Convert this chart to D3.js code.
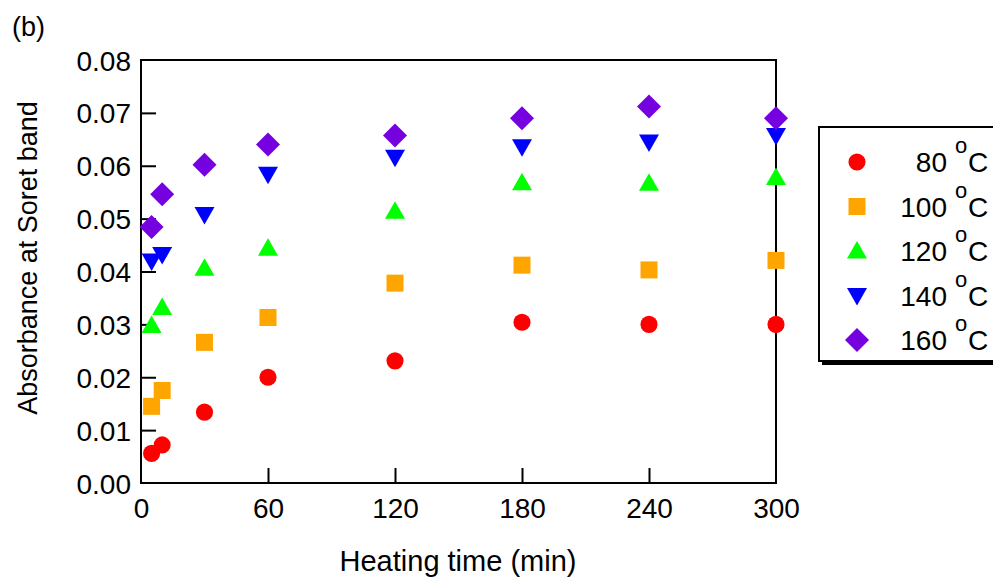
<!DOCTYPE html>
<html>
<head>
<meta charset="utf-8">
<script src="https://cdn.jsdelivr.net/npm/d3@7"></script>
<style>
  html, body { margin: 0; padding: 0; background: #fff; }
  svg { display: block; font-family: "Liberation Sans", Arial, sans-serif; }
</style>
</head>
<body>
<svg id="chart" width="993" height="580"></svg>
<script>
// Heating time (min)
const times = [5, 10, 30, 60, 120, 180, 240, 300];
// Absorbance at the Soret band for each heating temperature
const abs80  = [0.0056, 0.0072, 0.0134, 0.0200, 0.0231, 0.0304, 0.0300, 0.0300];
const abs100 = [0.0145, 0.0175, 0.0266, 0.0313, 0.0378, 0.0412, 0.0403, 0.0421];
const abs120 = [0.0298, 0.0332, 0.0406, 0.0444, 0.0514, 0.0568, 0.0567, 0.0578];
const abs140 = [0.0420, 0.0432, 0.0508, 0.0584, 0.0616, 0.0636, 0.0645, 0.0657];
const abs160 = [0.0484, 0.0546, 0.0602, 0.0640, 0.0657, 0.0690, 0.0712, 0.0690];
const tempLabels = ["80", "100", "120", "140", "160"];
const xTicks = [0, 60, 120, 180, 240, 300];
const yTicks = [0, 0.01, 0.02, 0.03, 0.04, 0.05, 0.06, 0.07, 0.08];

const series = [
  { label: tempLabels[0], values: abs80,  color: "#ff0000", shape: "circle" },
  { label: tempLabels[1], values: abs100, color: "#ffa500", shape: "square" },
  { label: tempLabels[2], values: abs120, color: "#00ff00", shape: "up" },
  { label: tempLabels[3], values: abs140, color: "#0000ff", shape: "down" },
  { label: tempLabels[4], values: abs160, color: "#7500e0", shape: "diamond" }
];

const svg = d3.select("#chart");
const L = 141, R = 776, T = 60, B = 483;

const x = d3.scaleLinear().domain([0, 300]).range([L, R]);
const y = d3.scaleLinear().domain([0, 0.08]).range([B, T]);

// marker path generators, centred at the origin
function markerPath(shape) {
  switch (shape) {
    case "circle": return d3.symbol(d3.symbolCircle, 230)();
    case "square": return "M-8.5,-8.5H8.5V8.5H-8.5Z";
    case "up": return "M0,-10L10,7.5L-10,7.5Z";
    case "down": return "M0,10L10,-7.5L-10,-7.5Z";
    case "diamond": return "M0,-12L12,0L0,12L-12,0Z";
  }
}

// frame
svg.append("rect")
  .attr("x", L).attr("y", T).attr("width", R - L).attr("height", B - T)
  .attr("fill", "none").attr("stroke", "#000").attr("stroke-width", 2);

// axes with inward ticks
const yAxis = d3.axisLeft(y).tickValues(yTicks).tickFormat(d3.format(".2f"))
  .tickSizeInner(-15).tickSizeOuter(0).tickPadding(10);
const gy = svg.append("g").attr("transform", `translate(${L},0)`).call(yAxis);

const xAxis = d3.axisBottom(x).tickValues(xTicks).tickFormat(d3.format("d"))
  .tickSizeInner(-15).tickSizeOuter(0).tickPadding(15);
const gx = svg.append("g").attr("transform", `translate(0,${B})`).call(xAxis);

[gx, gy].forEach(g => {
  g.attr("font-size", null).attr("font-family", null);
  g.select(".domain").remove();
  g.selectAll(".tick line").attr("stroke", "#000").attr("stroke-width", 2);
  g.selectAll(".tick text").attr("fill", "#000").style("font-size", "28px");
});
gx.selectAll(".tick").filter(d => d === 0 || d === 300).select("line").remove();
gy.selectAll(".tick").filter(d => d === 0 || d === 0.08).select("line").remove();
gy.selectAll(".tick text").attr("dy", "0.36em");

// data markers
series.forEach(s => {
  svg.append("g").selectAll("path")
    .data(times.map((t, i) => ({ t, v: s.values[i] })))
    .join("path")
    .attr("d", markerPath(s.shape))
    .attr("transform", d => `translate(${x(d.t)},${y(d.v)})`)
    .attr("fill", s.color);
});

// axis titles
svg.append("text")
  .attr("x", 458).attr("y", 571)
  .attr("text-anchor", "middle").style("font-size", "29px")
  .text("Heating time (min)");

svg.append("text")
  .attr("transform", `translate(37,258) rotate(-90)`)
  .attr("text-anchor", "middle").style("font-size", "27px")
  .text("Absorbance at Soret band");

// panel label
svg.append("text").attr("x", 12).attr("y", 36)
  .style("font-size", "27px").text("(b)");

// legend
const lg = svg.append("g");
lg.append("rect").attr("x", 822).attr("y", 130).attr("width", 180).attr("height", 235)
  .attr("fill", "#000");
lg.append("rect").attr("x", 819).attr("y", 127).attr("width", 180).attr("height", 234)
  .attr("fill", "#fff").attr("stroke", "#000").attr("stroke-width", 2);

const rowY = d3.scalePoint().domain(tempLabels).range([162, 340]);
series.forEach(s => {
  const cy = rowY(s.label);
  lg.append("path").attr("d", markerPath(s.shape))
    .attr("transform", `translate(857,${cy})`).attr("fill", s.color);
  lg.append("text").attr("x", 947).attr("y", cy + 10)
    .attr("text-anchor", "end").style("font-size", "28px").text(s.label);
  lg.append("text").attr("x", 955).attr("y", cy - 9)
    .style("font-size", "22px").text("o");
  lg.append("text").attr("x", 968).attr("y", cy + 10)
    .style("font-size", "28px").text("C");
});
</script>
</body>
</html>
